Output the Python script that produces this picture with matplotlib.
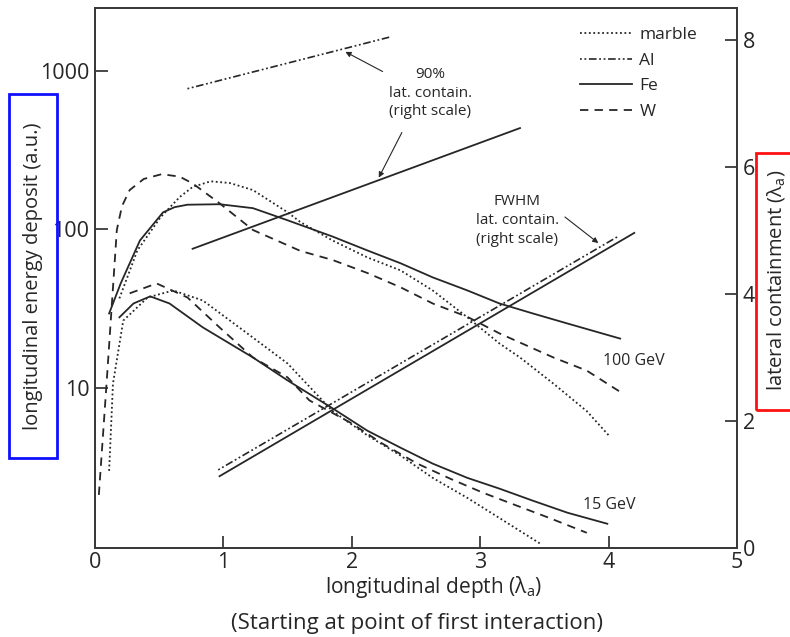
import numpy as np
import matplotlib
matplotlib.use('Agg')
import matplotlib.pyplot as plt
from matplotlib.lines import Line2D
from matplotlib.patches import Rectangle
from matplotlib.ticker import NullLocator

plt.rcParams['font.family'] = ['Open Sans', 'DejaVu Sans']
plt.rcParams['mathtext.fontset'] = 'custom'
plt.rcParams['mathtext.rm'] = 'Open Sans'
plt.rcParams['mathtext.it'] = 'Open Sans'
plt.rcParams['lines.scale_dashes'] = False

# ─── Longitudinal profiles (left, log scale) ────────────────────────────────
# 100 GeV
w100_x = [0.03, 0.09, 0.17, 0.21, 0.27, 0.38, 0.52, 0.66, 0.76, 0.97, 1.23,
          1.60, 1.85, 2.12, 2.38, 2.63, 2.90, 3.15, 3.57, 3.83, 4.09]
w100_y = [2.1, 10.6, 99, 140, 177, 208, 223, 215, 195, 146, 99, 73, 64, 53,
          43, 34, 28, 22, 15.5, 12.8, 9.4]
fe100_x = [0.11, 0.20, 0.35, 0.53, 0.62, 0.72, 0.97, 1.23, 1.50, 1.85, 2.12,
           2.38, 2.63, 2.90, 3.15, 3.41, 3.68, 4.09]
fe100_y = [29.4, 45.5, 85, 128, 138, 143, 144, 136, 114, 90, 73.6, 61, 49.7,
           41.1, 34, 29.4, 25.4, 20.4]
mb100_x = [0.19, 0.33, 0.51, 0.66, 0.76, 0.90, 1.05, 1.23, 1.50, 1.60, 1.85,
           2.12, 2.38, 2.63, 2.90, 3.15, 3.31, 3.57, 3.83, 4.00]
mb100_y = [36.6, 73.6, 119, 160, 185, 201, 196, 177, 128, 111, 85, 66.5, 55,
           41.1, 27.8, 19.0, 15.5, 10.6, 7.1, 5.0]

# 15 GeV
w15_x = [0.27, 0.48, 0.72, 0.97, 1.23, 1.50, 1.67, 1.99, 2.24, 2.51, 2.77,
         3.02, 3.29, 3.54, 3.83]
w15_y = [39.4, 45.5, 37.1, 24.0, 15.5, 11.6, 8.3, 6.0, 4.42, 3.31, 2.65, 2.17,
         1.79, 1.50, 1.21]
fe15_x = [0.19, 0.30, 0.43, 0.58, 0.84, 1.23, 1.50, 1.85, 2.12, 2.38, 2.63,
          2.90, 3.15, 3.41, 3.68, 3.99]
fe15_y = [27.8, 34.0, 37.7, 34.0, 24.0, 15.5, 11.1, 7.4, 5.35, 4.17, 3.31,
          2.69, 2.30, 1.93, 1.62, 1.38]
mb15_x = [0.11, 0.14, 0.22, 0.41, 0.61, 0.84, 1.23, 1.50, 1.85, 2.12, 2.38,
          2.63, 2.90, 3.15, 3.47]
mb15_y = [2.98, 10.6, 26.5, 37.1, 41.1, 35.5, 20.7, 14.2, 7.1, 5.0, 3.72,
          2.69, 2.01, 1.50, 1.03]

# ─── Lateral containment (right, linear scale) ──────────────────────────────
al90_x, al90_y = [0.72, 2.31], [7.23, 8.05]
fe90_x, fe90_y = [0.76, 3.31], [4.71, 6.61]
alfw_x, alfw_y = [0.96, 4.07], [1.23, 4.90]
fefw_x, fefw_y = [0.97, 4.20], [1.13, 4.96]

LEFT_TICKS = [10, 100, 1000]
RIGHT_TICKS = [0, 2, 4, 6, 8]
X_TICKS = [0, 1, 2, 3, 4, 5]

INK = '#262626'
SPINE = '#3a3a3a'
STYLES = {
    'marble': dict(linestyle=(0, (1.3, 1.9)), lw=1.3),
    'Al':     dict(linestyle=(0, (1.3, 1.9, 1.3, 1.9, 5.5, 1.9)), lw=1.2),
    'Fe':     dict(linestyle='-', lw=1.3),
    'W':      dict(linestyle=(0, (6.0, 4.5)), lw=1.3),
}

fig = plt.figure(figsize=(7.9, 6.37), dpi=100)
ax = fig.add_axes([95 / 790, 1 - 548 / 637, 642 / 790, 540 / 637])
ax.set_yscale('log')
ax.set_xlim(0, 5)
ax.set_ylim(0.97, 2500)
ax2 = ax.twinx()
ax2.set_ylim(0, 8.5)

for xs, ys, key in [(w100_x, w100_y, 'W'), (fe100_x, fe100_y, 'Fe'),
                    (mb100_x, mb100_y, 'marble'), (w15_x, w15_y, 'W'),
                    (fe15_x, fe15_y, 'Fe'), (mb15_x, mb15_y, 'marble')]:
    ax.plot(xs, ys, color=INK, **STYLES[key])

for xs, ys, key in [(al90_x, al90_y, 'Al'), (fe90_x, fe90_y, 'Fe'),
                    (alfw_x, alfw_y, 'Al'), (fefw_x, fefw_y, 'Fe')]:
    ax2.plot(xs, ys, color=INK, **STYLES[key])

# ticks / spines
ax.set_xticks(X_TICKS)
ax.set_xticklabels([str(t) for t in X_TICKS])
ax.set_yticks(LEFT_TICKS)
ax.set_yticklabels([str(t) for t in LEFT_TICKS])
ax.yaxis.set_minor_locator(NullLocator())
ax2.set_yticks(RIGHT_TICKS)
ax2.set_yticklabels([str(t) for t in RIGHT_TICKS])
for a in (ax, ax2):
    a.tick_params(direction='in', length=9, width=1.3, color=SPINE,
                  labelsize=15.5, labelcolor=INK, pad=4)
    for sp in a.spines.values():
        sp.set_linewidth(1.4)
        sp.set_color(SPINE)
ax.tick_params(axis='x', pad=3)

ax.set_xlabel('longitudinal depth (λ$_\\mathrm{a}$)', fontsize=15, color=INK)
ax.xaxis.set_label_coords(0.527, -0.048)
fig.text(0.528, 1 - 623 / 637, '(Starting at point of first interaction)',
         ha='center', va='center', fontsize=16, color=INK)

# left label in blue box
fig.patches.append(Rectangle((9 / 790, 1 - 458 / 637), 48 / 790, 364 / 637,
                             transform=fig.transFigure, fill=False,
                             edgecolor='#1010ff', lw=2))
fig.text(33 / 790, 1 - 276 / 637, 'longitudinal energy deposit (a.u.)',
         rotation=90, ha='center', va='center', fontsize=14.5, color=INK)
# right label in red box
fig.patches.append(Rectangle((756 / 790, 1 - 410 / 637), 60 / 790, 257 / 637,
                             transform=fig.transFigure, fill=False,
                             edgecolor='#ff1010', lw=2, clip_on=False))
fig.text(776 / 790, 1 - 280 / 637, 'lateral containment (λ$_\\mathrm{a}$)',
         rotation=90, ha='center', va='center', fontsize=14.5, color=INK)

# annotations
arrow = dict(arrowstyle='-|>', lw=0.8, color=INK, mutation_scale=8,
             shrinkA=0, shrinkB=0)
ax2.text(2.61, 7.16, '90%\nlat. contain.\n(right scale)', ha='center',
         va='center', fontsize=11, color=INK, linespacing=1.35)
ax2.annotate('', xy=(1.95, 7.81), xytext=(2.24, 7.50), arrowprops=arrow)
ax2.annotate('', xy=(2.21, 5.83), xytext=(2.39, 6.54), arrowprops=arrow)
ax2.text(3.29, 5.15, 'FWHM\nlat. contain.\n(right scale)', ha='center',
         va='center', fontsize=11, color=INK, linespacing=1.35)
ax2.annotate('', xy=(3.92, 4.80), xytext=(3.66, 5.21), arrowprops=arrow)

ax.text(3.96, 14.8, '100 GeV', ha='left', va='center', fontsize=11.5,
        color=INK)
ax.text(3.80, 1.8, '15 GeV', ha='left', va='center', fontsize=11.5, color=INK)

handles = [Line2D([], [], color=INK, **STYLES[k]) for k in STYLES]
ax2.legend(handles, list(STYLES), loc='upper left',
           bbox_to_anchor=(0.745, 0.978), frameon=False, fontsize=12.5,
           handlelength=3.0, handletextpad=0.4, labelspacing=0.55,
           borderaxespad=0, labelcolor=INK)

fig.savefig('out.png', dpi=100)
